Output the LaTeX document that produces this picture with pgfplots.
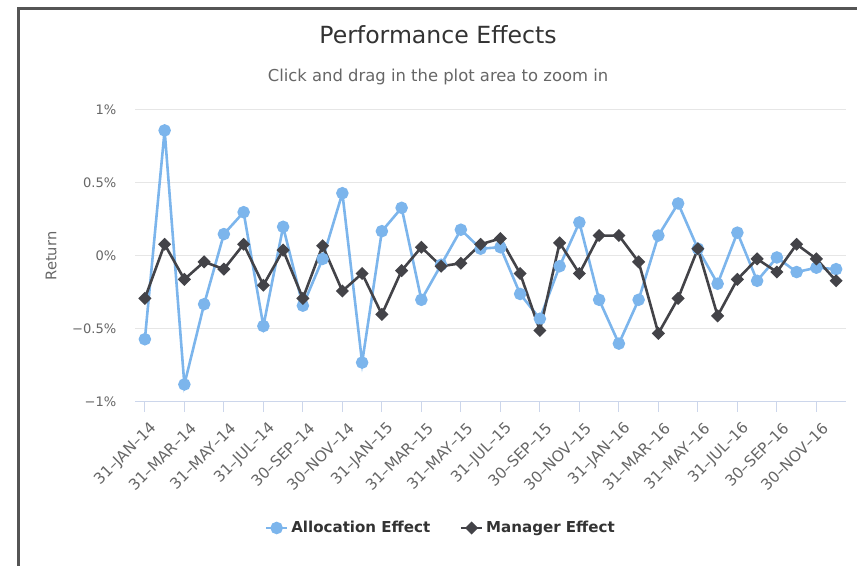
\documentclass[border=0pt]{standalone}
\usepackage{fontspec}
\setmainfont{DejaVu Sans}
\usepackage{pgfplots}
\pgfplotsset{compat=1.18}
\usepackage{pgfplotstable}
\definecolor{alloc}{HTML}{7CB5EC}
\definecolor{mgr}{HTML}{434348}
\definecolor{gridc}{HTML}{E6E6E6}
\definecolor{axisc}{HTML}{CCD6EB}
\definecolor{txt}{HTML}{333333}
\definecolor{lbl}{HTML}{666666}
\definecolor{frame}{HTML}{555555}
\pgfplotstableread{
idx alloc mgr
0 -0.57 -0.29
1 0.86 0.08
2 -0.88 -0.16
3 -0.33 -0.04
4 0.15 -0.09
5 0.30 0.08
6 -0.48 -0.20
7 0.20 0.04
8 -0.34 -0.29
9 -0.02 0.07
10 0.43 -0.24
11 -0.73 -0.12
12 0.17 -0.40
13 0.33 -0.10
14 -0.30 0.06
15 -0.06 -0.07
16 0.18 -0.05
17 0.05 0.08
18 0.06 0.12
19 -0.26 -0.12
20 -0.43 -0.51
21 -0.07 0.09
22 0.23 -0.12
23 -0.30 0.14
24 -0.60 0.14
25 -0.30 -0.04
26 0.14 -0.53
27 0.36 -0.29
28 0.05 0.05
29 -0.19 -0.41
30 0.16 -0.16
31 -0.17 -0.02
32 -0.01 -0.11
33 -0.11 0.08
34 -0.08 -0.02
35 -0.09 -0.17
}\datatable
\begin{document}
\begin{tikzpicture}
\useasboundingbox (0,0) rectangle (642.75pt,424.5pt);
\draw[frame, line width=1.9pt] (13.7pt,0pt) -- (13.7pt,418.1pt) -- (642.75pt,418.1pt);
\node[txt, font=\fontsize{17.7}{21}\selectfont] at (328.5pt,398.5pt) {Performance Effects};
\node[lbl, font=\fontsize{12.3}{15}\selectfont] at (328.5pt,367pt) {Click and drag in the plot area to zoom in};
\begin{axis}[
  at={(101.25pt,123pt)}, anchor=south west,
  width=533.25pt, height=219pt, scale only axis,
  xmin=-0.5, xmax=35.5, ymin=-1, ymax=1,
  axis x line*=bottom, axis y line*=left,
  x axis line style={axisc, line width=0.75pt},
  y axis line style={draw=none},
  ytick={-1,-0.5,0,0.5,1},
  yticklabels={−1\%,−0.5\%,0\%,0.5\%,1\%},
  ytick style={draw=none},
  ymajorgrids, major grid style={gridc, line width=0.75pt},
  xtick={0,2,...,34},
  xticklabels={31–JAN–14,31–MAR–14,31–MAY–14,31–JUL–14,30–SEP–14,30–NOV–14,31–JAN–15,31–MAR–15,31–MAY–15,31–JUL–15,30–SEP–15,30–NOV–15,31–JAN–16,31–MAR–16,31–MAY–16,31–JUL–16,30–SEP–16,30–NOV–16},
  tick align=outside, major tick length=7.5pt,
  xtick style={axisc, line width=0.75pt},
  yticklabel style={lbl, font=\fontsize{9.8}{12}\selectfont, anchor=east, xshift=-3pt},
  xticklabel style={lbl, font=\fontsize{11.4}{12}\selectfont, rotate=45, anchor=east, xshift=1pt, yshift=-12pt},
  ylabel={Return},
  ylabel style={lbl, font=\fontsize{11}{14}\selectfont, at={(axis description cs:-0.118,0.5)}, anchor=center},
  legend style={at={(axis description cs:0.4305,-0.4315)}, anchor=center, draw=none, fill=none,
    legend columns=2, font=\bfseries\fontsize{11.3}{14}\selectfont, text=txt,
    /tikz/every even column/.append style={column sep=20pt}},
  legend image code/.code={\draw[mark repeat=2, mark phase=2, #1] plot coordinates {(0pt,0pt) (8pt,0pt) (16pt,0pt)};},
]
\addplot[alloc, line width=1.95pt, mark=*, mark size=3.7pt, mark options={fill=alloc, draw=none}] table[x=idx, y=alloc] {\datatable};
\addlegendentry{Allocation Effect}
\addplot[mgr, line width=1.95pt, mark=square*, mark size=2.5pt, mark options={fill=mgr, draw=none, rotate=45}] table[x=idx, y=mgr] {\datatable};
\addlegendentry{Manager Effect}
\end{axis}
\end{tikzpicture}
\end{document}
